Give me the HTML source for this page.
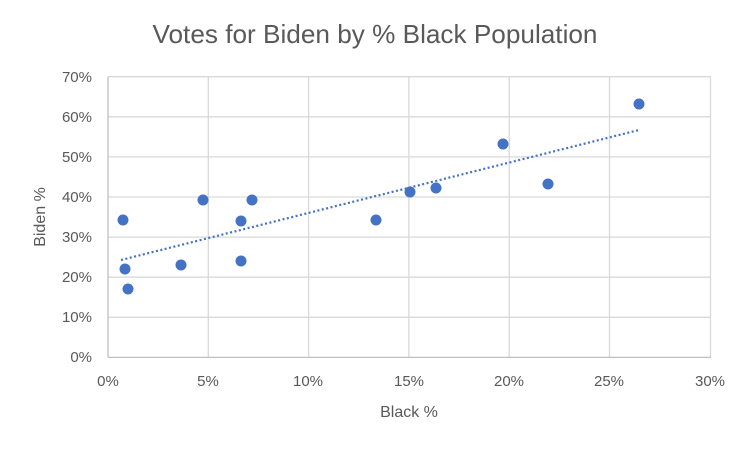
<!DOCTYPE html>
<html><head><style>body{margin:0;background:#fff}svg{display:block}text{font-family:"Liberation Sans",sans-serif;fill:#595959}</style></head><body>
<svg width="750" height="449" viewBox="0 0 750 449">
<rect width="750" height="449" fill="#fff"/>
<g stroke="#d9d9d9" stroke-width="1.3">
<line x1="108" y1="76.7" x2="711" y2="76.7"/><line x1="108" y1="116.8" x2="711" y2="116.8"/><line x1="108" y1="156.9" x2="711" y2="156.9"/><line x1="108" y1="197" x2="711" y2="197"/><line x1="108" y1="237.1" x2="711" y2="237.1"/><line x1="108" y1="277.2" x2="711" y2="277.2"/><line x1="108" y1="317.3" x2="711" y2="317.3"/>
<line x1="208.3" y1="76.7" x2="208.3" y2="357.4"/><line x1="308.6" y1="76.7" x2="308.6" y2="357.4"/><line x1="408.9" y1="76.7" x2="408.9" y2="357.4"/><line x1="509.2" y1="76.7" x2="509.2" y2="357.4"/><line x1="609.5" y1="76.7" x2="609.5" y2="357.4"/><line x1="710.5" y1="76.7" x2="710.5" y2="357.4"/>
</g>
<g stroke="#bfbfbf" stroke-width="1.3"><line x1="108" y1="76.7" x2="108" y2="357.4"/><line x1="108" y1="357.4" x2="711" y2="357.4"/></g>
<text x="375" y="43" font-size="26" text-anchor="middle" textLength="445" lengthAdjust="spacingAndGlyphs">Votes for Biden by % Black Population</text>
<g font-size="15" text-anchor="end">
<text x="92" y="82">70%</text><text x="92" y="122">60%</text><text x="92" y="162">50%</text><text x="92" y="202">40%</text><text x="92" y="242">30%</text><text x="92" y="282">20%</text><text x="92" y="322">10%</text><text x="92" y="362">0%</text>
</g>
<g font-size="15" text-anchor="middle">
<text x="108" y="386">0%</text><text x="208" y="386">5%</text><text x="308" y="386">10%</text><text x="409" y="386">15%</text><text x="509" y="386">20%</text><text x="609" y="386">25%</text><text x="710" y="386">30%</text>
</g>
<text x="409" y="417" font-size="16" text-anchor="middle">Black %</text>
<text transform="translate(45,217) rotate(-90)" font-size="16" text-anchor="middle">Biden %</text>
<line x1="121" y1="260" x2="639" y2="130" stroke="#4472c4" stroke-width="2.2" stroke-dasharray="2,2.5"/>
<g fill="#4472c4">
<circle cx="123" cy="220" r="5.5"/><circle cx="125" cy="269" r="5.5"/><circle cx="128" cy="289" r="5.5"/><circle cx="181" cy="265" r="5.5"/><circle cx="203" cy="200" r="5.5"/><circle cx="241" cy="221" r="5.5"/><circle cx="241" cy="261" r="5.5"/><circle cx="252" cy="200" r="5.5"/><circle cx="376" cy="220" r="5.5"/><circle cx="410" cy="192" r="5.5"/><circle cx="436" cy="188" r="5.5"/><circle cx="503" cy="144" r="5.5"/><circle cx="548" cy="184" r="5.5"/><circle cx="639" cy="104" r="5.5"/>
</g>
</svg>
</body></html>
